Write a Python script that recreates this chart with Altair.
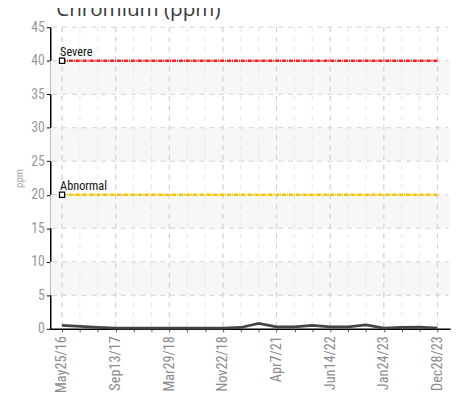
import altair as alt
import pandas as pd

# ---- data ----
values = [0.5, 0.35, 0.2, 0.1, 0.1, 0.1, 0.1, 0.1, 0.1, 0.1, 0.2, 0.8,
          0.3, 0.3, 0.5, 0.3, 0.3, 0.6, 0.1, 0.2, 0.25, 0.1]
tick_positions = [0, 3, 6, 9, 12, 15, 18, 21]
tick_labels = ["May25/16", "Sep13/17", "Mar29/18", "Nov22/18",
               "Apr7/21", "Jun14/22", "Jan24/23", "Dec28/23"]
limit_names = ["Severe", "Abnormal"]
limit_values = [40, 20]
limit_colors = ["#ff1a1a", "#f5c400"]
band_lo = [5, 15, 25, 35]
band_hi = [10, 20, 30, 40]
y_ticks = [0, 5, 10, 15, 20, 25, 30, 35, 40, 45]
title_text = "Chromium (ppm)"
y_title = "ppm"

W, H = 407, 307
FONT = "Roboto Condensed"

n = len(values)
idx = list(range(n))
df = pd.DataFrame({"i": idx, "v": values})
label_map = dict(zip(tick_positions, tick_labels))
label_expr = "{" + ",".join(f"'{k}':'{v}'" for k, v in label_map.items()) + "}[datum.value] || ''"

xs = alt.Scale(domain=[-0.66, 21.71], nice=False, zero=False)
ys = alt.Scale(domain=[0, 45], nice=False, zero=False)

x_axis = alt.Axis(values=idx, labelExpr=label_expr,
                  labelAngle=270, labelAlign="right", labelBaseline="middle",
                  labelColor="#8c8c8c", labelFontSize=14.5, labelFont=FONT,
                  labelOverlap=False, labelPadding=4,
                  domainColor="black", domainWidth=1.5,
                  tickColor="#555", tickSize=3, grid=False, title=None)
y_axis = alt.Axis(values=y_ticks, labelColor="#999999", labelFontSize=14,
                  labelFont=FONT, labelOverlap=False, labelPadding=2,
                  domainColor="black", domainWidth=1.5,
                  tickColor="black", tickSize=4, grid=False,
                  title=y_title, titleColor="#aaaaaa", titleFontSize=11,
                  titleFontWeight="normal", titleFont=FONT, titlePadding=6)


def X(f):
    return alt.X(f, scale=xs, axis=x_axis, title=None)


def Y(f):
    return alt.Y(f, scale=ys, axis=y_axis, title=y_title)


bands = alt.Chart(pd.DataFrame({"lo": band_lo, "hi": band_hi})).mark_rect(
    color="#f7f7f7").encode(
    x=alt.value(0), x2=alt.value(W),
    y=Y("lo:Q"), y2="hi:Q")

minor = alt.Chart(pd.DataFrame({"i": idx})).mark_rule(
    color="#e8e8e8", strokeDash=[5, 5], strokeWidth=1).encode(
    x=X("i:Q"), y=alt.value(0), y2=alt.value(H))

major = alt.Chart(pd.DataFrame({"i": tick_positions})).mark_rule(
    color="#cfcfcf", strokeDash=[5, 5], strokeWidth=1).encode(
    x=X("i:Q"), y=alt.value(0), y2=alt.value(H))

hgrid = alt.Chart(pd.DataFrame({"t": y_ticks[1:]})).mark_rule(
    color="#d2d2d2", strokeDash=[5, 5], strokeWidth=1).encode(
    y=Y("t:Q"), x=alt.value(2), x2=alt.value(W - 2))

lim_rows = []
for nm, lv, c in zip(limit_names, limit_values, limit_colors):
    for i in idx:
        lim_rows.append({"name": nm, "i": i, "v": lv, "c": c})
lim_df = pd.DataFrame(lim_rows)

limits = alt.Chart(lim_df).mark_line(strokeWidth=2.5, strokeDash=[4, 1, 1, 1]).encode(
    x=X("i:Q"), y=Y("v:Q"),
    detail="name:N",
    color=alt.Color("c:N", scale=None))

lim_first = pd.DataFrame({"name": limit_names, "i": [0, 0], "v": limit_values})
markers = alt.Chart(lim_first).mark_point(
    shape="square", filled=True, fill="white", stroke="black", strokeWidth=1.2,
    size=28, opacity=1).encode(x=X("i:Q"), y=Y("v:Q"))

lim_text = alt.Chart(lim_first).mark_text(
    align="left", baseline="alphabetic", dx=-2, dy=-5, fontSize=12.5,
    font=FONT, color="#111111").encode(x=X("i:Q"), y=Y("v:Q"), text="name:N")

line = alt.Chart(df).mark_line(color="#444444", strokeWidth=2.8).encode(
    x=X("i:Q"), y=Y("v:Q"))

title = alt.Chart(pd.DataFrame({"t": [title_text]})).mark_text(
    align="left", baseline="alphabetic", fontSize=21, font="Open Sans",
    color="#3a3a3a").encode(x=alt.value(6), y=alt.value(-11), text="t:N")

chart = alt.layer(bands, hgrid, minor, major, limits, line, markers, lim_text, title).properties(
    width=W, height=H,
    autosize=alt.AutoSizeParams(type="none"),
    padding={"left": 43, "top": 16, "right": 8, "bottom": 75},
).configure_view(stroke=None)

chart.save("out.html", embed_options={"renderer": "svg", "actions": False})
